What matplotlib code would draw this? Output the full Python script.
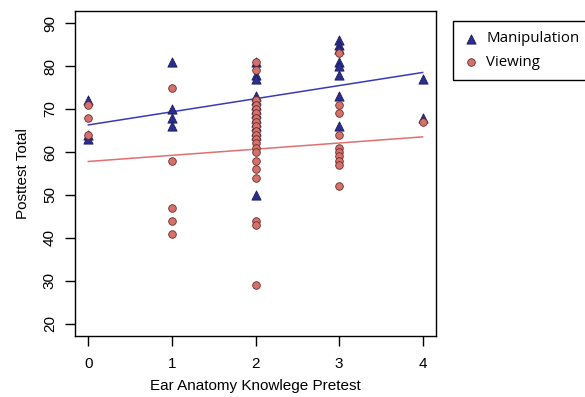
import matplotlib.pyplot as plt
import numpy as np

plt.rcParams['font.family'] = ['Liberation Sans', 'DejaVu Sans']

# pretest score -> posttest totals
manip_x = [0, 0, 0,
           1, 1, 1, 1,
           2, 2, 2, 2, 2, 2, 2, 2, 2, 2, 2, 2, 2, 2,
           3, 3, 3, 3, 3, 3, 3, 3,
           4, 4]
manip_y = [72, 64, 63,
           81, 70, 68, 66,
           81, 78, 77, 73, 72, 71, 70, 69, 68, 67, 66, 65, 64, 50,
           86, 85, 84, 81, 80, 78, 73, 66,
           77, 68]

view_x = [0, 0, 0,
          1, 1, 1, 1, 1,
          2, 2, 2, 2, 2, 2, 2, 2, 2, 2, 2, 2, 2, 2, 2, 2, 2, 2, 2, 2, 2,
          3, 3, 3, 3, 3, 3, 3, 3, 3, 3,
          4]
view_y = [71, 68, 64,
          75, 58, 47, 44, 41,
          81, 79, 72, 71, 70, 69, 68, 67, 66, 65, 64, 63, 62, 61, 60, 58, 56, 54, 44, 43, 29,
          83, 71, 69, 64, 61, 60, 59, 58, 57, 52,
          67]

# fitted regression lines (intercept, slope)
manip_fit = (66.3, 3.05)
view_fit = (57.8, 1.43)

x_ticks = [0, 1, 2, 3, 4]
y_ticks = [20, 30, 40, 50, 60, 70, 80, 90]

fig = plt.figure(figsize=(5.85, 3.97), dpi=100)
ax = fig.add_axes([75 / 585, 1 - 336 / 397, (436 - 75) / 585, (336 - 11) / 397])

ax.scatter(manip_x, manip_y, marker='^', s=44, color='#2b2e8c', edgecolors='#1a1c5e',
           linewidths=0.6, zorder=3, label='Manipulation')
ax.scatter(view_x, view_y, marker='o', s=30, color='#d4716b', edgecolors='#6b2a2a',
           linewidths=0.6, zorder=3, label='Viewing')

xx = np.array([0, 4])
ax.plot(xx, manip_fit[0] + manip_fit[1] * xx, color='#3a3ab8', lw=1.1, zorder=2)
ax.plot(xx, view_fit[0] + view_fit[1] * xx, color='#e07070', lw=1.1, zorder=2)

ax.set_xlim(-0.16, 4.16)
ax.set_ylim(17.2, 92.8)
ax.set_xticks(x_ticks)
ax.set_yticks(y_ticks)
ax.tick_params(axis='both', direction='out', length=7, width=1, labelsize=11, colors='black')
ax.tick_params(axis='x', pad=8)
ax.tick_params(axis='y', pad=6)
for lab in ax.get_yticklabels():
    lab.set_rotation(90)
    lab.set_va('center')
for sp in ax.spines.values():
    sp.set_linewidth(1)

ax.set_xlabel('Ear Anatomy Knowlege Pretest', fontsize=11, labelpad=6)
ax.set_ylabel('Posttest Total', fontsize=11, labelpad=9)

leg = fig.legend(loc='upper left', bbox_to_anchor=(453 / 585, 1 - 21 / 397),
                 frameon=True, fancybox=False, edgecolor='black', framealpha=1,
                 borderaxespad=0, handlelength=1.0, handletextpad=0.5, borderpad=0.7,
                 labelspacing=0.55, prop={'family': 'Open Sans', 'size': 10.8})
leg.get_frame().set_linewidth(1)

fig.savefig('out.png', dpi=100)
